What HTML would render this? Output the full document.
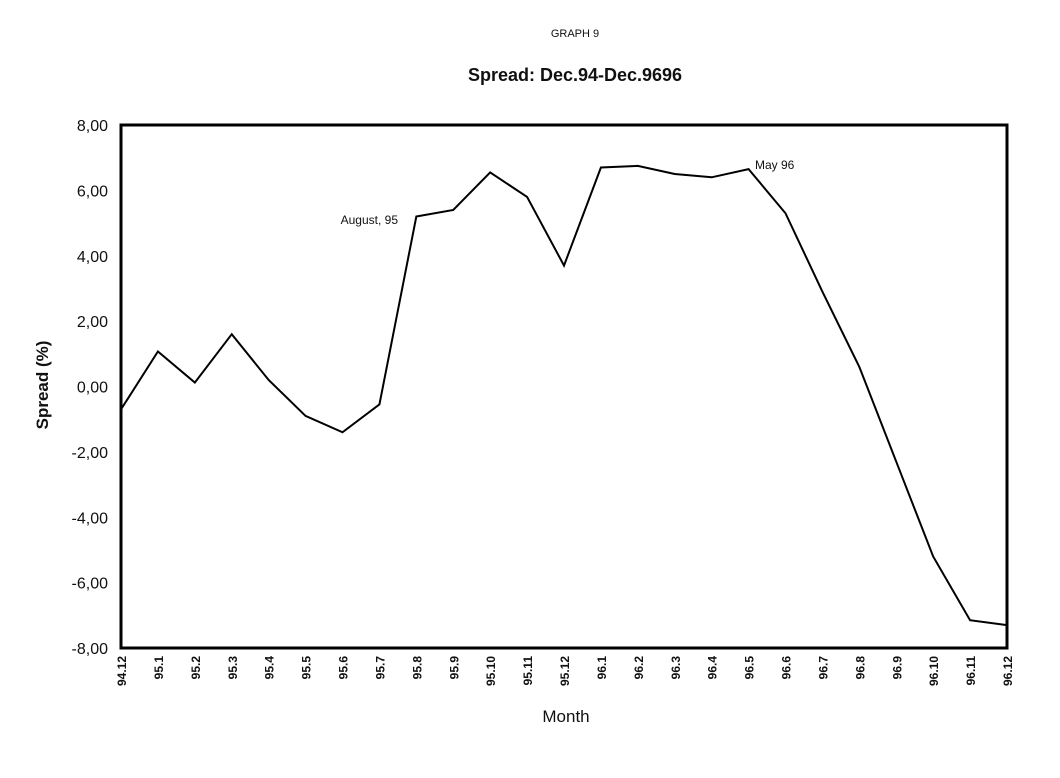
<!DOCTYPE html>
<html><head><meta charset="utf-8"><style>
body{margin:0;background:#fff;}
svg text{font-family:"Liberation Sans",sans-serif;fill:#111;}
</style></head><body>
<svg id="chart" width="1060" height="773" viewBox="0 0 1060 773">
<text x="575" y="37" font-size="11" text-anchor="middle">GRAPH 9</text>
<text x="575" y="81" font-size="18" font-weight="bold" text-anchor="middle">Spread: Dec.94-Dec.9696</text>
<text transform="translate(48,385) rotate(-90)" font-size="17" font-weight="bold" text-anchor="middle">Spread (%)</text>
<text x="566" y="722" font-size="17" text-anchor="middle">Month</text>
<rect x="121" y="125" width="886" height="523" fill="none" stroke="#000" stroke-width="3"/>
<g id="yt"></g><g id="xt"></g><g id="marks"></g>
<text x="398" y="224" font-size="12" text-anchor="end">August, 95</text>
<text x="755" y="169" font-size="12">May  96</text>
</svg>
<script>
const categories=["94.12","95.1","95.2","95.3","95.4","95.5","95.6","95.7","95.8","95.9","95.10","95.11","95.12","96.1","96.2","96.3","96.4","96.5","96.6","96.7","96.8","96.9","96.10","96.11","96.12"];
const spread=[-0.7,1.07,0.12,1.6,0.2,-0.9,-1.4,-0.55,5.2,5.4,6.55,5.8,3.7,6.7,6.75,6.5,6.4,6.65,5.3,2.9,0.6,-2.3,-5.2,-7.15,-7.3];
const yTicks=[8,6,4,2,0,-2,-4,-6,-8];
const yTickLabels=["8,00","6,00","4,00","2,00","0,00","-2,00","-4,00","-6,00","-8,00"];
const NS="http://www.w3.org/2000/svg";
const x0=121,x1=1007,y0=125,y1=648;
const xs=i=>x0+i*(x1-x0)/(categories.length-1);
const ys=v=>y1-(v+8)/16*(y1-y0);
const yt=document.getElementById('yt'),xt=document.getElementById('xt'),mk=document.getElementById('marks');
yTicks.forEach((v,i)=>{const t=document.createElementNS(NS,'text');
t.setAttribute('x',108);t.setAttribute('y',ys(v)+6);t.setAttribute('font-size','16');t.setAttribute('text-anchor','end');
t.textContent=yTickLabels[i];


yt.appendChild(t);});
categories.forEach((c,i)=>{const t=document.createElementNS(NS,'text');
const x=xs(i)+5;
t.setAttribute('transform','translate('+x+',656) rotate(-90)');t.setAttribute('font-size','12');t.setAttribute('font-weight','bold');t.setAttribute('text-anchor','end');
t.textContent=c;


xt.appendChild(t);});
const p=document.createElementNS(NS,'polyline');
p.setAttribute('points',spread.map((v,i)=>xs(i)+','+ys(v)).join(' '));
p.setAttribute('fill','none');p.setAttribute('stroke','#000');p.setAttribute('stroke-width','2');


mk.appendChild(p);
</script>
</body></html>
